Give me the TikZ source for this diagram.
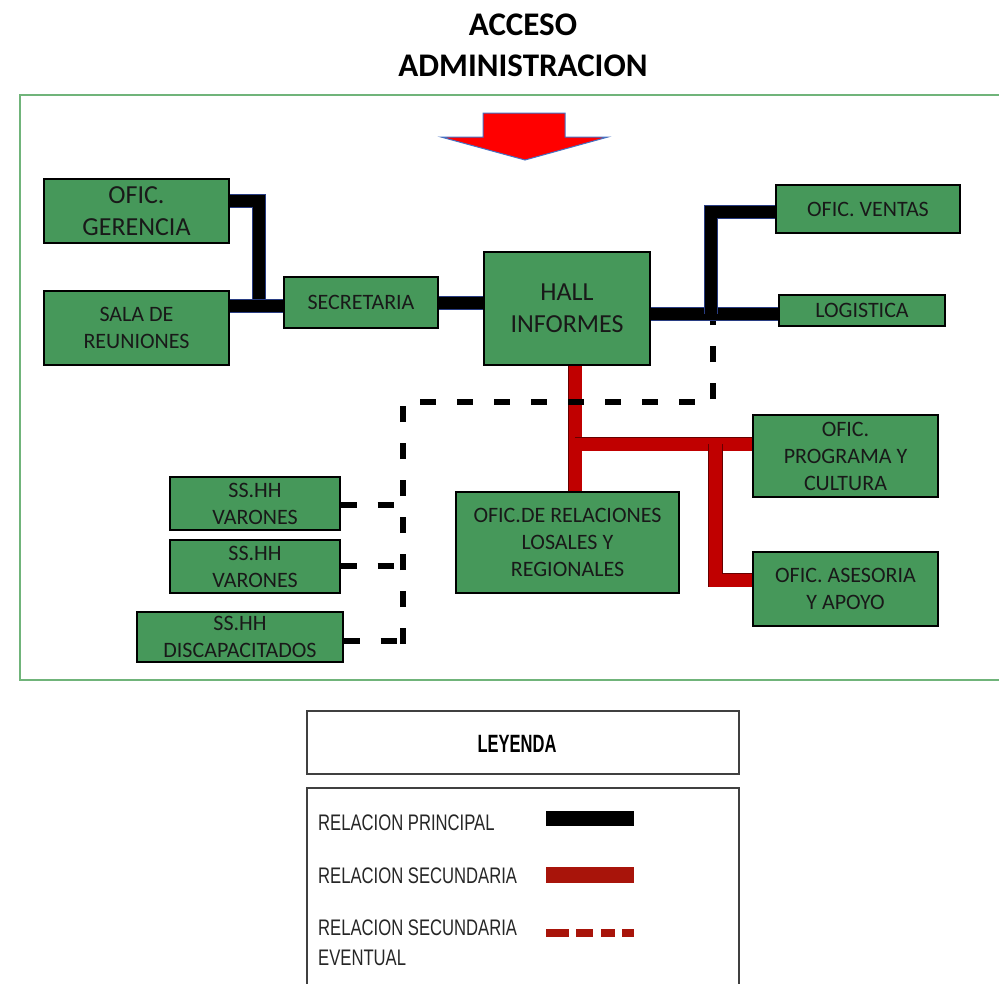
\documentclass[tikz,border=0pt]{standalone}
\usepackage{fontspec}
\setmainfont{Carlito}
\newfontfamily\legfont[FakeStretch=0.74]{Liberation Sans}
\newfontfamily\leghead[FakeStretch=0.66]{Liberation Sans Bold}
\definecolor{boxgreen}{RGB}{70,152,90}
\definecolor{framegreen}{RGB}{112,180,122}
\definecolor{secred}{RGB}{192,0,0}
\definecolor{legred}{RGB}{168,20,10}
\definecolor{outl}{RGB}{40,60,130}
\definecolor{arrowblue}{RGB}{68,114,196}
\pgfdeclarelayer{background}
\pgfsetlayers{background,main}
\begin{document}
\begin{tikzpicture}[x=1pt,y=-1pt,
  box/.style={draw=black, line width=1.3pt, fill=boxgreen, text=black!90, align=center, inner sep=0pt, font=\fontsize{22}{27}\selectfont},
  bigtxt/.style={font=\fontsize{26}{32}\selectfont},
  mainrel/.style={line width=12pt, draw=black, preaction={draw=outl, line width=14pt}},
  secrel/.style={line width=13pt, draw=secred, preaction={draw=black!60!red, line width=14.5pt}},
  eventual/.style={line width=6.5pt, draw=black, dash pattern=on 16pt off 21pt},
  legtext/.style={anchor=base west, inner sep=0pt, text=black!85, font=\legfont\fontsize{22.5}{28}\selectfont}
]
\useasboundingbox (0,0) rectangle (999,983);

% title
\node[anchor=base, inner sep=0pt, font=\bfseries\fontsize{33}{40}\selectfont] (t1) at (523,35) {ACCESO};
\node[anchor=base, inner sep=0pt, font=\bfseries\fontsize{33}{40}\selectfont] (t2) at (523,76) {ADMINISTRACION};

% frame
\draw[framegreen, line width=2pt] (999,95) -- (20,95) -- (20,680) -- (999,680);

% entrance arrow
\fill[red, draw=arrowblue, line width=1pt] (483,113) -- (565,113) -- (565,137) -- (608,137) -- (525,160) -- (441,137) -- (483,137) -- cycle;

% nodes
\node[box, bigtxt, minimum width=185, minimum height=64] (ger) at (136.5,211) {OFIC.\\GERENCIA};
\node[box, minimum width=185, minimum height=74] (sala) at (136.5,328) {SALA DE\\REUNIONES};
\node[box, minimum width=154, minimum height=51] (sec) at (361,302.5) {SECRETARIA};
\node[box, bigtxt, minimum width=166, minimum height=113] (hall) at (567,308.5) {HALL\\INFORMES};
\node[box, minimum width=184, minimum height=48] (ven) at (868,209) {OFIC. VENTAS};
\node[box, minimum width=166, minimum height=31] (log) at (862,310.5) {LOGISTICA};
\node[box, minimum width=185, minimum height=82] (prog) at (845.5,456) {OFIC.\\PROGRAMA Y\\CULTURA};
\node[box, minimum width=185, minimum height=74] (ases) at (845.5,589) {OFIC. ASESORIA\\Y APOYO};
\node[box, minimum width=223, minimum height=101] (rel) at (567.5,542.5) {OFIC.DE RELACIONES\\LOSALES Y\\REGIONALES};
\node[box, minimum width=170, minimum height=53] (v1) at (255,503.5) {SS.HH\\VARONES};
\node[box, minimum width=170, minimum height=53] (v2) at (255,566.5) {SS.HH\\VARONES};
\node[box, minimum width=206, minimum height=50] (dis) at (240,637) {SS.HH\\DISCAPACITADOS};

% junction coordinates
\coordinate (jl) at (258.5,306);
\coordinate (jg) at (258.5,201);
\coordinate (jr) at (710.5,313.5);
\coordinate (jv) at (710.5,212);
\coordinate (rx) at (575,444);
\coordinate (ry) at (715.5,444);
\coordinate (ra) at (715.5,580);
\coordinate (d1) at (713,321);
\coordinate (d2) at (713,402);
\coordinate (d3) at (403,402);
\coordinate (d4) at (403,644);

\begin{pgfonlayer}{background}
\fill[white] (0,0) rectangle (999,983);
% main relations
\draw[mainrel] (ger.east |- jg) -- (jg) -- (jl);
\draw[mainrel] (sala.east |- jl) -- (sec.west |- jl);
\draw[mainrel] (sec.east) -- (hall.west |- sec.east);
\draw[mainrel] (hall.east |- jr) -- (log.west |- jr);
\draw[mainrel] (jr) -- (jv) -- (ven.west |- jv);
% secondary relations
\draw[secrel] (hall.south -| rx) -- (rel.north -| rx);
\draw[secrel] (rx) -- (prog.west |- rx);
\draw[secrel] (ry) -- (ra) -- (ases.west |- ra);
% eventual relations
\draw[eventual] (d4) -- (d3) -- (d2) -- (d1);
\draw[eventual] (v1.east |- 0,505) -- (d3 |- 0,505);
\draw[eventual] (v2.east |- 0,566) -- (d3 |- 0,566);
\draw[eventual] (dis.east |- 0,641) -- (d4 |- 0,641);
\end{pgfonlayer}

% legend
\draw[black!75, line width=1.3pt] (307,711) rectangle (739,774);
\node[inner sep=0pt, anchor=base, font=\leghead\fontsize{25}{30}\selectfont] (ley) at (517,752) {LEYENDA};
\draw[black!75, line width=1.3pt] (307,990) -- (307,788) -- (739,788) -- (739,990);
\node[legtext] (l1) at (318,830) {RELACION PRINCIPAL};
\node[legtext] (l2) at (318,883) {RELACION SECUNDARIA};
\node[legtext] (l3) at (318,935) {RELACION SECUNDARIA};
\node[legtext] (l4) at (318,965) {EVENTUAL};
\draw[black, line width=15pt] (546,818) -- (634,818);
\draw[legred, line width=16pt] (546,875) -- (634,875);
\draw[legred, line width=8pt, dash pattern=on 23pt off 7pt on 17pt off 8pt on 14pt off 7pt on 12pt off 10pt] (546,933) -- (634,933);
\end{tikzpicture}
\end{document}
